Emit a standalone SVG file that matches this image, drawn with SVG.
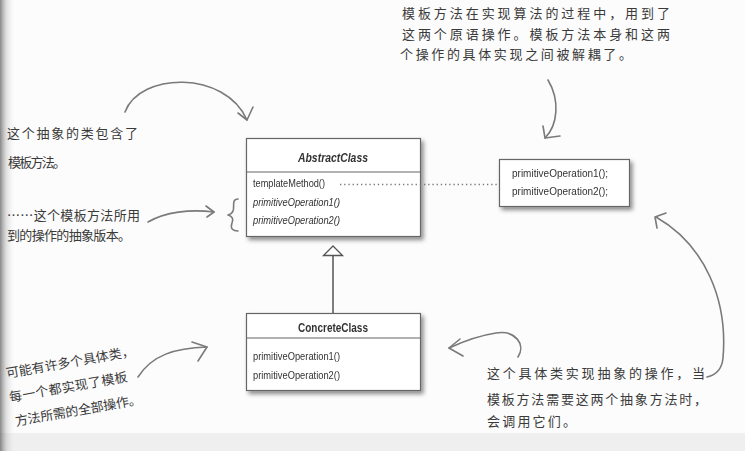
<svg xmlns="http://www.w3.org/2000/svg" width="745" height="451" viewBox="0 0 745 451">
<defs>
<filter id="sh" x="-10%" y="-10%" width="125%" height="130%">
<feDropShadow dx="2.5" dy="3" stdDeviation="2" flood-color="#000" flood-opacity="0.45"/>
</filter>
<linearGradient id="edge" x1="0" y1="0" x2="1" y2="0">
<stop offset="0" stop-color="#555" stop-opacity="0.7"/>
<stop offset="0.4" stop-color="#999" stop-opacity="0.3"/>
<stop offset="1" stop-color="#fff" stop-opacity="0"/>
</linearGradient>
<style>
.box{fill:#fff;stroke:#666;stroke-width:1.2}
.uml{font-family:"Liberation Sans",Arial,sans-serif;font-size:11px;fill:#333}
.it{font-style:italic}
.ttl{font-family:"Liberation Sans",Arial,sans-serif;font-size:12.5px;font-weight:bold;fill:#333}
.hand{font-family:"Noto Sans CJK SC","Noto Sans CJK JP",sans-serif;font-size:13px;fill:#3a3a3a}
.arr{fill:none;stroke:#7a7a7a;stroke-width:1.6;stroke-linecap:round;stroke-linejoin:round}
</style>
</defs>
<rect x="0" y="0" width="745" height="451" fill="#fcfcfc"/>
<rect x="0" y="433" width="745" height="18" fill="#efefef"/>
<rect x="0" y="0" width="16" height="451" fill="url(#edge)"/>

<g id="AbstractClass" filter="url(#sh)">
<rect class="box" x="246.5" y="138.5" width="174" height="98"/>
<line x1="246.5" y1="172" x2="420.5" y2="172" stroke="#666" stroke-width="1.2"/>
<text class="ttl it" x="333" y="161.5" text-anchor="middle" textLength="70" lengthAdjust="spacingAndGlyphs">AbstractClass</text>
<text class="uml" x="253" y="187" textLength="72" lengthAdjust="spacingAndGlyphs">templateMethod()</text>
<text class="uml it" x="253" y="205.5" textLength="87" lengthAdjust="spacingAndGlyphs">primitiveOperation1()</text>
<text class="uml it" x="253" y="224" textLength="87" lengthAdjust="spacingAndGlyphs">primitiveOperation2()</text>
</g>

<g id="TemplateBody" filter="url(#sh)">
<rect class="box" x="499.5" y="159.5" width="130" height="47"/>
<text class="uml" x="512" y="177" textLength="96" lengthAdjust="spacingAndGlyphs">primitiveOperation1();</text>
<text class="uml" x="512" y="194.5" textLength="96" lengthAdjust="spacingAndGlyphs">primitiveOperation2();</text>
</g>

<g id="ConcreteClass" filter="url(#sh)">
<rect class="box" x="246.5" y="313.5" width="174" height="77"/>
<line x1="246.5" y1="338" x2="420.5" y2="338" stroke="#666" stroke-width="1.2"/>
<text class="ttl" x="333" y="331.5" text-anchor="middle" textLength="70" lengthAdjust="spacingAndGlyphs">ConcreteClass</text>
<text class="uml" x="253" y="360" textLength="87" lengthAdjust="spacingAndGlyphs">primitiveOperation1()</text>
<text class="uml" x="253" y="378.5" textLength="87" lengthAdjust="spacingAndGlyphs">primitiveOperation2()</text>
</g>

<g id="connectors">
<line x1="340" y1="184.5" x2="498" y2="184.5" stroke="#777" stroke-width="1.3" stroke-dasharray="1.3 2.9"/>
<line x1="333" y1="255" x2="333" y2="313" stroke="#555" stroke-width="1.5"/>
<polygon points="333,246 323.5,255.5 342.5,255.5" fill="#fff" stroke="#555" stroke-width="1.3"/>
</g>

<g id="annotation-arrows">
<path class="arr" d="M125,112 C140,72 225,70 247,120"/>
<path class="arr" d="M238,113 L247,120 L253,107"/>
<path class="arr" d="M548,80 C560,100 558,125 545,138"/>
<path class="arr" d="M543,126 L545,138 L560,136"/>
<path class="arr" d="M148,222 C165,212 190,209 214,212"/>
<path class="arr" d="M206,206 L214,212 L207,217"/>
<path class="arr" d="M238,199 C231,199 235,207 233,211 C232,214 228,215 228,215 C232,216 234,219 232,223 C230,229 233,231 238,231"/>
<path class="arr" d="M138,377 C152,355 175,348 207,347"/>
<path class="arr" d="M192,342 L207,347 L198,361"/>
<path class="arr" d="M518,357 C526,345 516,330 496,333 C476,336 462,342 449,348"/>
<path class="arr" d="M460,339 L449,348 L463,356"/>
<path class="arr" d="M707,377 C716,375 722,369 723,358 C728,300 705,245 656,217"/>
<path class="arr" d="M657,228 L655,217 L666,213"/>
</g>

<g id="note-top">
<text class="hand" x="402" y="18" font-size="14" textLength="268" lengthAdjust="spacing">模板方法在实现算法的过程中，用到了</text>
<text class="hand" x="402" y="38.5" font-size="14" textLength="268" lengthAdjust="spacing">这两个原语操作。模板方法本身和这两</text>
<text class="hand" x="400" y="58.5" font-size="14" textLength="232" lengthAdjust="spacing">个操作的具体实现之间被解耦了。</text>
</g>

<g id="note-abstract">
<text class="hand" x="7" y="138" textLength="131" lengthAdjust="spacing">这个抽象的类包含了</text>
<text class="hand" x="8" y="166.5" font-size="11.5" textLength="58" lengthAdjust="spacing">模板方法。</text>
</g>

<g id="note-ops">
<text class="hand" x="7" y="220" textLength="133" lengthAdjust="spacing">……这个模板方法所用</text>
<text class="hand" x="7" y="239.5" font-size="12" textLength="124" lengthAdjust="spacing">到的操作的抽象版本。</text>
</g>

<g id="note-concrete" class="hand">
<text x="7" y="378" transform="rotate(-10 7 378)" textLength="130" lengthAdjust="spacing">可能有许多个具体类，</text>
<text x="10" y="402" transform="rotate(-10 10 402)" textLength="120" lengthAdjust="spacing">每一个都实现了模板</text>
<text x="16" y="426" transform="rotate(-10 16 426)" textLength="128" lengthAdjust="spacing">方法所需的全部操作。</text>
</g>

<g id="note-implement">
<text class="hand" x="487" y="378" font-size="14" textLength="218" lengthAdjust="spacing">这个具体类实现抽象的操作，当</text>
<text class="hand" x="487" y="404" font-size="14" textLength="220" lengthAdjust="spacing">模板方法需要这两个抽象方法时，</text>
<text class="hand" x="487" y="426" font-size="14" textLength="89" lengthAdjust="spacing">会调用它们。</text>
</g>
</svg>
